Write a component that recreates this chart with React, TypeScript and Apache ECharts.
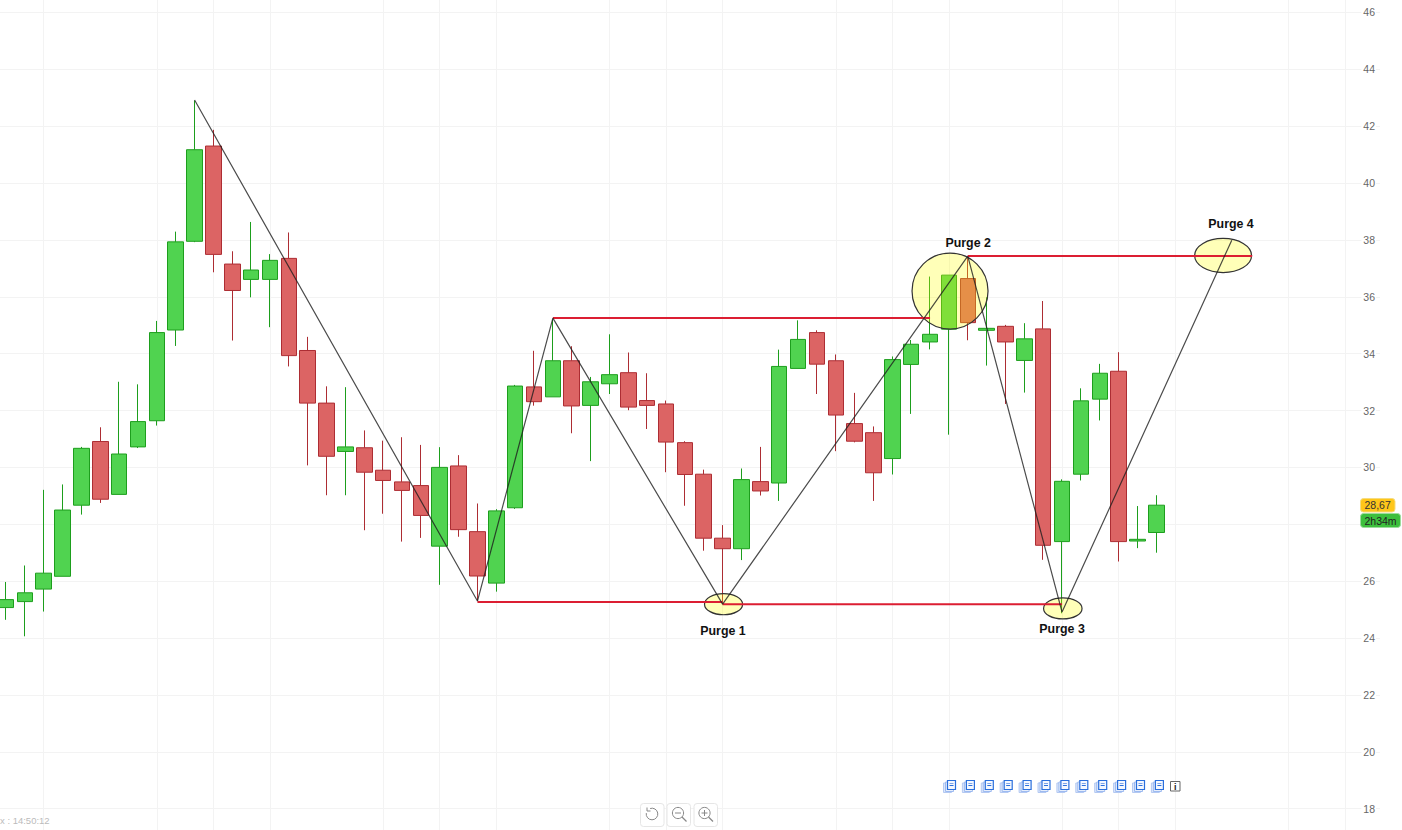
import React, { useEffect, useRef } from "react";
import * as echarts from "echarts";

const opens = [25.07,25.28,25.72,26.17,28.67,30.91,29.05,30.72,31.64,34.83,37.95,41.30,37.15,36.61,36.61,37.35,34.11,32.26,30.56,30.69,29.90,29.49,29.36,27.23,30.05,27.74,25.93,28.58,32.83,32.48,33.75,32.18,32.94,33.33,32.35,32.23,30.87,29.76,27.51,27.14,29.50,29.45,33.48,34.74,33.75,31.54,31.22,30.31,33.62,34.41,34.86,36.64,34.82,34.96,33.76,34.87,27.39,29.76,32.40,33.38,27.41,27.71];
const closes = [25.35,25.59,26.28,28.50,30.67,28.88,30.47,31.61,34.74,37.93,41.17,37.49,36.22,36.94,37.28,33.93,32.26,30.39,30.72,29.83,29.54,29.19,28.31,30.00,27.81,26.18,28.47,32.86,32.31,33.75,32.16,33.01,33.26,32.12,32.18,30.89,29.75,27.51,27.14,29.57,29.17,33.55,34.50,33.63,31.84,30.92,29.81,33.79,34.33,34.68,36.76,35.09,34.89,34.41,34.52,27.26,29.51,32.34,33.31,27.39,27.47,28.67];
const lows = [24.64,24.06,24.93,26.17,28.34,28.75,29.05,30.68,31.47,34.27,37.92,36.86,34.46,35.98,34.93,33.55,30.07,29.02,29.02,27.79,28.37,27.39,27.52,25.87,27.56,25.30,25.63,28.54,32.17,32.48,31.20,30.22,32.58,32.01,31.35,29.83,28.65,27.07,25.19,26.74,29.01,28.82,33.48,32.58,30.57,30.88,28.82,29.75,31.88,34.15,31.15,34.47,33.58,32.23,32.63,26.75,24.87,29.54,31.65,26.69,27.16,27.00];
const highs = [25.97,26.55,29.21,29.40,30.72,31.41,33.01,32.92,35.15,38.29,42.90,41.87,37.60,38.63,37.50,38.26,34.59,32.85,32.82,31.30,30.94,31.06,30.79,30.71,30.43,28.73,28.53,32.90,34.10,35.20,34.26,33.18,34.68,34.04,33.31,32.35,30.92,29.92,27.97,29.96,30.72,34.14,35.17,34.82,33.97,32.62,31.44,33.90,34.48,36.71,36.76,37.36,35.98,35.01,35.07,35.85,29.58,32.78,33.64,34.05,28.64,29.02];

const yTicksMin = 16;
const yTicksMax = 48;
const yLabelHiddenBehindBadge = 28;
const xGridIdx = [2,8,11,14,20,23,26,32,35,38,44,47,50,56,59,62,68,71];

const zigzagX = [10,25,29,38,51,56,65];
const zigzagY = [42.92,25.30,35.25,25.19,37.43,24.91,37.99];

const purgeLineA = [[25,25.27],[38,25.27]];
const purgeLineB = [[38,25.19],[56,25.19]];
const purgeLineC = [[29,35.25],[49,35.25]];
const purgeLineD = [[51,37.43],[66.08,37.43]];

const ellipseCx = [38.05,50.06,56.04,64.54];
const ellipseCy = [25.19,36.20,25.04,37.45];
const ellipseRx = [1.01,2.015,1.02,1.51];
const ellipseRy = [0.372,1.337,0.37,0.6];

const purgeNames = ["Purge 1","Purge 2","Purge 3","Purge 4"];
const purgeX = [38.02,51.02,56.0,64.96];
const purgeY = [24.24,37.89,24.31,38.57];

const lastPrice = "28,67";
const countdown = "2h34m";
const clockText = "x : 14:50:12";

const docIconCount = 12;

function docIcon(x: number, y: number) {
  return [
    { type: "rect", shape: { x, y: y + 2.5, width: 8, height: 9.5 }, style: { fill: "#dbe6fa", stroke: "#b4c9f2", lineWidth: 1 } },
    { type: "rect", shape: { x: x + 2, y: y + 1.5, width: 8, height: 9.5 }, style: { fill: "#e6eefc", stroke: "#9dbaf0", lineWidth: 1 } },
    { type: "rect", shape: { x: x + 4, y: y, width: 8, height: 9 }, style: { fill: "#f4f8ff", stroke: "#2a6fdc", lineWidth: 1.2 } },
    { type: "line", shape: { x1: x + 6, y1: y + 5, x2: x + 10, y2: y + 5 }, style: { stroke: "#2a6fdc", lineWidth: 1 } },
    { type: "line", shape: { x1: x + 6, y1: y + 3, x2: x + 10, y2: y + 3 }, style: { stroke: "#7fa5e8", lineWidth: 1 } },
  ];
}

function button(x: number) {
  return { type: "rect", shape: { x, y: 803.5, width: 23.5, height: 23, r: 3 }, style: { fill: "#fff", stroke: "#e6e6e6", lineWidth: 1 } };
}

function magnifier(cx: number, plus: boolean) {
  const g = "#888";
  const out: any[] = [
    { type: "circle", shape: { cx, cy: 813, r: 5.6 }, style: { fill: "none", stroke: g, lineWidth: 1 } },
    { type: "line", shape: { x1: cx + 4, y1: 817, x2: cx + 8.5, y2: 821.5 }, style: { stroke: g, lineWidth: 1.2 } },
    { type: "line", shape: { x1: cx - 3, y1: 813, x2: cx + 3, y2: 813 }, style: { stroke: g, lineWidth: 1 } },
  ];
  if (plus) out.push({ type: "line", shape: { x1: cx, y1: 810, x2: cx, y2: 816 }, style: { stroke: g, lineWidth: 1 } });
  return out;
}

export default function App() {
  const ref = useRef<HTMLDivElement>(null);
  useEffect(() => {
    document.body.style.margin = "0";
    const chart = echarts.init(ref.current!, undefined, { renderer: "svg" });

    const icons: any[] = [];
    for (let i = 0; i < docIconCount; i++) icons.push(...docIcon(943.5 + i * 18.9, 780.5));

    chart.setOption({
      animation: false,
      backgroundColor: "#ffffff",
      grid: { left: 0, top: -44.5, width: 1380, height: 910, outerBoundsMode: "none" },
      xAxis: {
        type: "value",
        min: -0.318,
        max: 72.86,
        axisLine: { show: false },
        axisLabel: { show: false },
        axisTick: { show: false, customValues: xGridIdx },
        splitLine: { show: true, lineStyle: { color: "#f3f3f3", width: 1 } },
      },
      yAxis: {
        type: "value",
        position: "right",
        min: yTicksMin,
        max: yTicksMax,
        interval: 2,
        axisLine: { show: false },
        axisTick: { show: false },
        axisLabel: {
          inside: true,
          margin: 4,
          showMinLabel: false,
          showMaxLabel: false,
          color: "#666",
          fontSize: 10.5,
          fontFamily: "Liberation Sans, Arial, sans-serif",
          backgroundColor: "#fff",
          padding: [0, 1, 2, 2],
          formatter: (v: number) => (v === yLabelHiddenBehindBadge ? "" : String(v)),
        },
        splitLine: { show: true, lineStyle: { color: "#f3f3f3", width: 1 } },
      },
      series: [
        {
          type: "candlestick",
          z: 2,
          barWidth: 16,
          encode: { x: 0, y: [1, 2, 3, 4] },
          data: opens.map((o, i) => [i, o, closes[i], lows[i], highs[i]]),
          itemStyle: {
            color: "#50D350",
            color0: "#DC6464",
            borderColor: "#1D9E1D",
            borderColor0: "#AD2D33",
            borderWidth: 1,
          },
        },
        {
          type: "custom",
          z: 3,
          encode: { x: 0, y: 1 },
          data: ellipseCx.map((x, i) => [x, ellipseCy[i], ellipseRx[i], ellipseRy[i]]),
          renderItem: (_p: any, api: any) => {
            const c = api.coord([api.value(0), api.value(1)]);
            const s = api.size([api.value(2), api.value(3)]);
            return {
              type: "ellipse",
              shape: { cx: c[0], cy: c[1], rx: s[0], ry: s[1] },
              style: { fill: "rgba(255,255,0,0.28)", stroke: "#333", lineWidth: 1.2 },
            };
          },
        },
        ...[purgeLineA, purgeLineB, purgeLineC, purgeLineD].map((data) => ({
          type: "line",
          z: 4,
          data,
          symbol: "none",
          lineStyle: { color: "#DC1E32", width: 2 },
        })),
        {
          type: "line",
          z: 5,
          data: zigzagX.map((x, i) => [x, zigzagY[i]]),
          symbol: "none",
          lineStyle: { color: "rgba(30,30,30,0.8)", width: 1.2 },
        },
        {
          type: "custom",
          z: 6,
          encode: { x: 0, y: 1 },
          data: purgeX.map((x, i) => [x, purgeY[i]]),
          renderItem: (p: any, api: any) => {
            const c = api.coord([api.value(0), api.value(1)]);
            return {
              type: "text",
              x: c[0],
              y: c[1],
              style: {
                text: purgeNames[p.dataIndex],
                fill: "#111",
                font: "bold 12.4px 'Liberation Sans', Arial, sans-serif",
                align: "center",
                verticalAlign: "middle",
              },
            };
          },
        },
      ],
      graphic: [
        { type: "rect", z: 20, shape: { x: 1360.5, y: 498.5, width: 34.5, height: 13.5, r: 3 }, style: { fill: "#FFC61A", stroke: "#F5DC80", lineWidth: 1 } },
        { type: "text", z: 21, x: 1364.5, y: 505.3, style: { text: lastPrice, fill: "#333", font: "10.5px 'Liberation Sans', Arial, sans-serif", verticalAlign: "middle" } },
        { type: "rect", z: 20, shape: { x: 1360.5, y: 513.5, width: 40, height: 14, r: 3 }, style: { fill: "#3DBF3D", stroke: "#9EDC9E", lineWidth: 1 } },
        { type: "text", z: 21, x: 1364.5, y: 520.7, style: { text: countdown, fill: "#222", font: "10.5px 'Liberation Sans', Arial, sans-serif", verticalAlign: "middle" } },
        { type: "text", z: 21, x: 0, y: 820.5, style: { text: clockText, fill: "#bbb", font: "9.5px 'Liberation Sans', Arial, sans-serif", verticalAlign: "middle" } },
        ...icons.map((e) => ({ ...e, z: 21 })),
        { type: "rect", z: 21, shape: { x: 1170.5, y: 781.5, width: 9.5, height: 9.5 }, style: { fill: "#fff", stroke: "#666", lineWidth: 1 } },
        { type: "text", z: 22, x: 1175.3, y: 786.5, style: { text: "i", fill: "#222", font: "bold 9px 'Liberation Sans', Arial, sans-serif", align: "center", verticalAlign: "middle" } },
        { ...button(640.5), z: 21 },
        { ...button(667), z: 21 },
        { ...button(694), z: 21 },
        { type: "arc", z: 22, shape: { cx: 652, cy: 814, r: 5.8, startAngle: -1.9, endAngle: 3.3, clockwise: true }, style: { fill: "none", stroke: "#888", lineWidth: 1 } },
        { type: "polyline", z: 22, shape: { points: [[647, 807.5], [647, 811], [650.5, 811]] }, style: { fill: "none", stroke: "#888", lineWidth: 1 } },
        ...magnifier(678, false).map((e) => ({ ...e, z: 22 })),
        ...magnifier(704.5, true).map((e) => ({ ...e, z: 22 })),
      ],
    });
    return () => chart.dispose();
  }, []);
  return <div ref={ref} style={{ position: "absolute", left: 0, top: 0, width: 1402, height: 830, overflow: "hidden" }} />;
}
